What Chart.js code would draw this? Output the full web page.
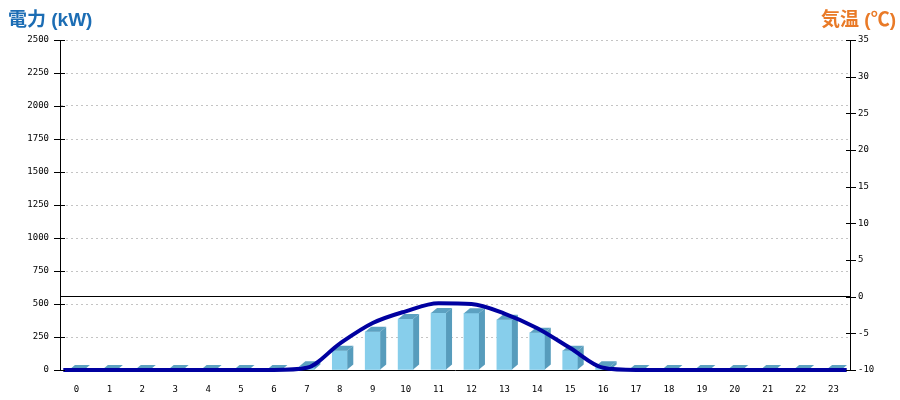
<!DOCTYPE html>
<html>
<head>
<meta charset="utf-8">
<script src="https://cdn.jsdelivr.net/npm/chart.js@4.4.1/dist/chart.umd.min.js"></script>
<style>
  body { margin: 0; background: #fff; }
  #wrap { width: 900px; height: 400px; position: relative; }
</style>
</head>
<body>
<div id="wrap"><canvas id="chart"></canvas></div>
<script>
// hours of the day
const hours = ['0','1','2','3','4','5','6','7','8','9','10','11','12','13','14','15','16','17','18','19','20','21','22','23'];
// generated power (kW)
const powerKw = [0, 0, 0, 0, 0, 0, 0, 28, 145, 290, 386, 432, 430, 381, 283, 146, 28, 0, 0, 0, 0, 0, 0, 0];
// air temperature (°C)
const tempC = [-10, -10, -10, -10, -10, -10, -10, -9.7, -6.4, -3.6, -2.0, -0.9, -1.0, -2.3, -4.3, -7.0, -9.7, -10, -10, -10, -10, -10, -10, -10];
// line runs out to the plot edges
const lineStartX = -0.4;
const lineEndX = 23.4;

const powerTicks = { min: 0, max: 2500, step: 250 };
const tempTicks = { min: -10, max: 35, step: 5 };

const frontColor = '#87ceeb';
const topColor = '#5ca1c1';
const sideColor = '#579cbc';

// line points: edge stubs + one per hour
const tempPoints = [{ x: lineStartX, y: tempC[0] }]
  .concat(tempC.map((t, i) => ({ x: i, y: t })))
  .concat([{ x: lineEndX, y: tempC[tempC.length - 1] }]);

// side + top faces for the pseudo 3D bars
const bar3d = {
    id: 'bar3d',
    afterDatasetDraw(chart, args) {
        if (args.index !== 0) return;
        const ctx = chart.ctx;
        const d = 6, h = 5;
        args.meta.data.forEach(bar => {
            const { x, y, base, width } = bar.getProps(['x', 'y', 'base', 'width'], true);
            const l = x - width / 2, r = x + width / 2;
            ctx.save();
            ctx.fillStyle = sideColor;
            ctx.beginPath();
            ctx.moveTo(r, y); ctx.lineTo(r + d, y - h); ctx.lineTo(r + d, base - h); ctx.lineTo(r, base);
            ctx.closePath(); ctx.fill();
            ctx.fillStyle = topColor;
            ctx.beginPath();
            ctx.moveTo(l, y); ctx.lineTo(l + d, y - h); ctx.lineTo(r + d, y - h); ctx.lineTo(r, y);
            ctx.closePath(); ctx.fill();
            ctx.restore();
        });
    }
};

// tick marks crossing the vertical axes, and the two titles
const extras = {
    id: 'extras',
    afterDraw(chart) {
        const ctx = chart.ctx;
        const yS = chart.scales.y, y2S = chart.scales.y2;
        ctx.save();
        ctx.strokeStyle = '#000';
        ctx.lineWidth = 1;
        ctx.beginPath();
        yS.ticks.forEach(t => {
            const py = Math.round(yS.getPixelForValue(t.value)) + 0.5;
            ctx.moveTo(yS.right - 6, py); ctx.lineTo(yS.right + 5, py);
        });
        y2S.ticks.forEach(t => {
            const py = Math.round(y2S.getPixelForValue(t.value)) + 0.5;
            ctx.moveTo(y2S.left - 4, py); ctx.lineTo(y2S.left + 6, py);
        });
        ctx.stroke();

        ctx.font = 'bold 19px Arial, "Liberation Sans", "Noto Sans CJK JP", sans-serif';
        ctx.textBaseline = 'alphabetic';
        ctx.fillStyle = '#1c6db4';
        ctx.textAlign = 'left';
        ctx.fillText('電力 (kW)', 8, 26);
        ctx.fillStyle = '#e97a27';
        ctx.textAlign = 'right';
        ctx.fillText('気温 (℃)', 896, 26);
        ctx.restore();
    }
};

const tickFont = { family: '"DejaVu Sans Mono", monospace', size: 9 };
const plain = v => String(v);

new Chart(document.getElementById('chart'), {
    data: {
        labels: hours,
        datasets: [
            {
                type: 'bar',
                label: '電力',
                data: powerKw,
                backgroundColor: frontColor,
                barThickness: 15,
                grouped: false,
                xAxisID: 'x',
                yAxisID: 'y',
                order: 2
            },
            {
                type: 'line',
                label: '気温',
                data: tempPoints,
                borderColor: '#0000a0',
                borderWidth: 4,
                pointRadius: 0,
                cubicInterpolationMode: 'monotone',
                xAxisID: 'xl',
                yAxisID: 'y2',
                clip: false,
                order: 1
            }
        ]
    },
    options: {
        responsive: true,
        maintainAspectRatio: false,
        animation: false,
        layout: { padding: { top: 40, left: 0, right: 0, bottom: 0 } },
        plugins: {
            legend: { display: false },
            tooltip: { enabled: false }
        },
        scales: {
            x: {
                type: 'category',
                offset: true,
                grid: { display: false },
                border: { display: true, color: '#000', width: 1 },
                ticks: { color: '#000', font: tickFont, padding: 6, maxRotation: 0, autoSkip: false },
                afterFit(s) { s.height = 30; }
            },
            xl: {
                type: 'linear',
                display: false,
                min: -0.5,
                max: 23.5
            },
            y: {
                position: 'left',
                min: powerTicks.min,
                max: powerTicks.max,
                ticks: { stepSize: powerTicks.step, color: '#000', font: tickFont, padding: 11, callback: plain },
                grid: {
                    drawTicks: false,
                    color: c => (c.tick && c.tick.value === 0) ? 'rgba(0,0,0,0)' : '#c4c4c4'
                },
                border: { display: true, color: '#000', width: 1, dash: [2, 3] },
                afterFit(s) { s.width = 60; }
            },
            y2: {
                position: 'right',
                min: tempTicks.min,
                max: tempTicks.max,
                ticks: { stepSize: tempTicks.step, color: '#000', font: tickFont, padding: 8, callback: plain },
                grid: {
                    drawTicks: false,
                    color: c => (c.tick && c.tick.value === 0) ? '#000' : 'rgba(0,0,0,0)'
                },
                border: { display: true, color: '#000', width: 1 },
                afterFit(s) { s.width = 50; }
            }
        }
    },
    plugins: [bar3d, extras]
});
</script>
</body>
</html>
